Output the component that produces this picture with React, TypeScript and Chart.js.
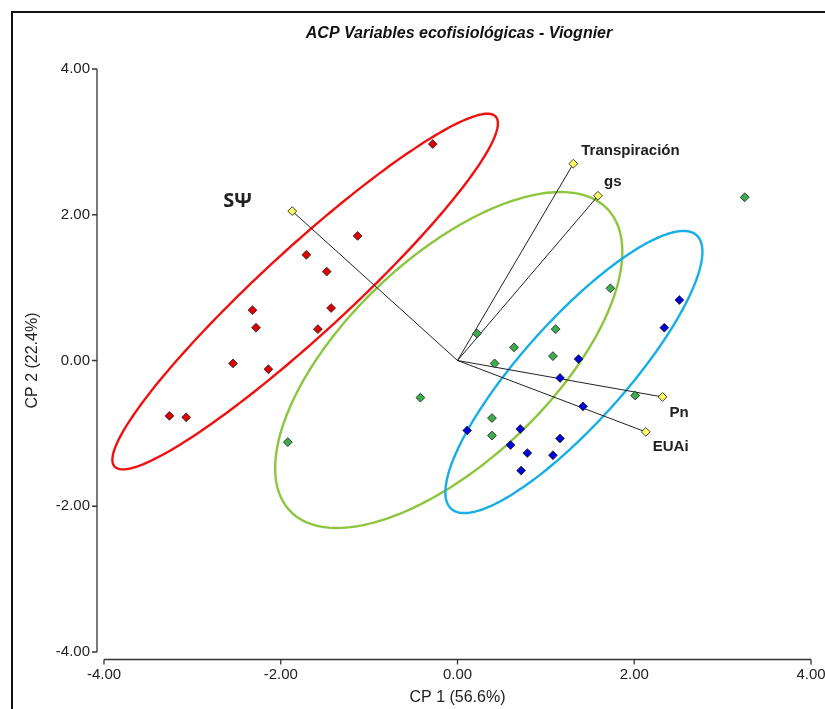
import React, { useEffect, useRef } from 'react';
import { Chart, registerables } from 'chart.js';

Chart.register(...registerables);

// ---- Data ----
const chartTitle = 'ACP Variables ecofisiológicas - Viognier';
const xAxisTitle = 'CP 1 (56.6%)';
const yAxisTitle = 'CP 2 (22.4%)';
const axisMin = -4;
const axisMax = 4;
const axisStep = 2;

const redX = [-0.28, -1.13, -1.71, -1.48, -1.43, -2.32, -2.28, -1.58, -2.54, -2.14, -3.26, -3.07];
const redY = [2.97, 1.71, 1.45, 1.22, 0.72, 0.69, 0.45, 0.43, -0.04, -0.12, -0.76, -0.78];

const greenX = [-0.42, -1.92, 0.22, 0.42, 0.39, 0.39, 3.25, 1.73, 1.11, 0.64, 1.08, 2.01];
const greenY = [-0.51, -1.12, 0.37, -0.04, -0.79, -1.03, 2.24, 0.99, 0.43, 0.18, 0.06, -0.48];

const blueX = [2.51, 2.34, 1.37, 1.16, 1.42, 0.11, 0.71, 1.16, 0.6, 0.79, 1.08, 0.72];
const blueY = [0.83, 0.45, 0.02, -0.24, -0.63, -0.96, -0.94, -1.07, -1.16, -1.27, -1.3, -1.51];

const varNames = ['SΨ', 'Transpiración', 'gs', 'Pn', 'EUAi'];
const varX = [-1.87, 1.31, 1.59, 2.32, 2.13];
const varY = [2.05, 2.7, 2.26, -0.5, -0.98];

// Ellipses: centre and two conjugate semi-diameters (data units)
const ellipseCx = [-1.724, -0.099, 1.317];
const ellipseCy = [0.946, 0.007, -0.158];
const ellipseUx = [2.156, 1.796, 1.388];
const ellipseUy = [2.401, 2.071, 1.877];
const ellipseVx = [0.33, 0.795, 0.434];
const ellipseVy = [-0.435, -1.011, -0.472];

// ---- Styles ----
const FONT = '"Liberation Sans", Arial, sans-serif';
const ellipseColors = ['#f01010', '#8cc63f', '#16aee6'];
const labelDx = [-69, 8, 6, 7, 7];
const labelDy = [-4, -9, -10, 20, 19];
const labelFonts = [
  'bold 20px "Open Sans", "Noto Sans", sans-serif',
  'bold 15px ' + FONT,
  'bold 15px ' + FONT,
  'bold 15px ' + FONT,
  'bold 15px ' + FONT,
];

const toPts = (xs: number[], ys: number[]) => xs.map((x, i) => ({ x, y: ys[i] }));

const biplotPlugin = {
  id: 'biplot',
  beforeDatasetsDraw(chart: any) {
    const { ctx } = chart;
    const xs = chart.scales.x;
    const ys = chart.scales.y;
    ctx.save();
    ellipseCx.forEach((cx, i) => {
      ctx.beginPath();
      const n = 240;
      for (let k = 0; k <= n; k++) {
        const t = (k / n) * Math.PI * 2;
        const dx = cx + ellipseUx[i] * Math.cos(t) + ellipseVx[i] * Math.sin(t);
        const dy = ellipseCy[i] + ellipseUy[i] * Math.cos(t) + ellipseVy[i] * Math.sin(t);
        const px = xs.getPixelForValue(dx);
        const py = ys.getPixelForValue(dy);
        if (k === 0) ctx.moveTo(px, py);
        else ctx.lineTo(px, py);
      }
      ctx.closePath();
      ctx.strokeStyle = ellipseColors[i];
      ctx.lineWidth = 2.4;
      ctx.stroke();
    });
    ctx.restore();
  },
  afterDraw(chart: any) {
    const { ctx, chartArea } = chart;
    const xs = chart.scales.x;
    const ys = chart.scales.y;
    ctx.save();
    // outer frame
    ctx.strokeStyle = '#111';
    ctx.lineWidth = 2;
    ctx.strokeRect(12, 12, 1000, 1000);

    // title
    ctx.fillStyle = '#111';
    ctx.font = 'italic bold 16px ' + FONT;
    ctx.textAlign = 'center';
    ctx.textBaseline = 'alphabetic';
    ctx.fillText(chartTitle, 459, 38);

    // axes (detached)
    ctx.strokeStyle = '#333';
    ctx.lineWidth = 1.3;
    const yAxisX = chartArea.left - 7;
    ctx.beginPath();
    ctx.moveTo(yAxisX, ys.getPixelForValue(axisMax));
    ctx.lineTo(yAxisX, ys.getPixelForValue(axisMin));
    ys.ticks.forEach((t: any) => {
      const py = ys.getPixelForValue(t.value);
      ctx.moveTo(yAxisX - 5, py);
      ctx.lineTo(yAxisX, py);
    });
    const xAxisY = chartArea.bottom + 7.5;
    ctx.moveTo(xs.getPixelForValue(axisMin), xAxisY);
    ctx.lineTo(xs.getPixelForValue(axisMax), xAxisY);
    xs.ticks.forEach((t: any) => {
      const px = xs.getPixelForValue(t.value);
      ctx.moveTo(px, xAxisY);
      ctx.lineTo(px, xAxisY + 5);
    });
    ctx.stroke();

    // variable labels
    ctx.fillStyle = '#222';
    ctx.textAlign = 'left';
    varNames.forEach((name, i) => {
      ctx.font = labelFonts[i];
      const px = xs.getPixelForValue(varX[i]);
      const py = ys.getPixelForValue(varY[i]);
      ctx.fillText(name, px + labelDx[i], py + labelDy[i]);
    });
    ctx.restore();
  },
};

export default function App() {
  const ref = useRef<HTMLCanvasElement>(null);
  useEffect(() => {
    const canvas = ref.current;
    if (!canvas) return;
    const pointBorder = '#2a2a2a';
    const vectorSets = varX.map((x, i) => ({
      type: 'scatter' as const,
      data: [{ x: 0, y: 0 }, { x, y: varY[i] }],
      showLine: true,
      borderColor: '#222',
      borderWidth: 1,
      pointRadius: 0,
      order: 2,
    }));
    const chart = new Chart(canvas, {
      type: 'scatter',
      data: {
        datasets: [
          { data: toPts(redX, redY), backgroundColor: '#e00000', borderColor: pointBorder, borderWidth: 0.9, pointStyle: 'rectRot', pointRadius: 4.4, order: 0 },
          { data: toPts(greenX, greenY), backgroundColor: '#3aae4a', borderColor: pointBorder, borderWidth: 0.9, pointStyle: 'rectRot', pointRadius: 4.4, order: 0 },
          { data: toPts(blueX, blueY), backgroundColor: '#0000dd', borderColor: pointBorder, borderWidth: 0.9, pointStyle: 'rectRot', pointRadius: 4.4, order: 0 },
          { data: toPts(varX, varY), backgroundColor: '#ffff66', borderColor: pointBorder, borderWidth: 0.9, pointStyle: 'rectRot', pointRadius: 4.4, order: 0 },
          ...vectorSets,
        ] as any,
      },
      options: {
        animation: false,
        responsive: false,
        events: [],
        layout: { padding: { top: 69, right: 14, bottom: 0, left: 0 } },
        plugins: { legend: { display: false }, tooltip: { enabled: false }, title: { display: false } },
        scales: {
          x: {
            type: 'linear',
            min: axisMin,
            max: axisMax,
            border: { display: false },
            grid: { display: true, drawOnChartArea: false, drawTicks: false, color: 'transparent' },
            ticks: {
              stepSize: axisStep,
              padding: 14,
              color: '#222',
              font: { family: FONT, size: 15 },
              maxRotation: 0,
              autoSkip: false,
              callback: (v: any) => Number(v).toFixed(2),
            },
            title: { display: true, text: xAxisTitle, color: '#222', font: { family: FONT, size: 16 }, padding: { top: 0, bottom: 2 } },
            afterFit: (s: any) => {
              s.height = 57;
              s.paddingLeft = 0;
              s.paddingRight = 0;
            },
          },
          y: {
            type: 'linear',
            min: axisMin,
            max: axisMax,
            border: { display: false },
            grid: { display: true, drawOnChartArea: false, drawTicks: false, color: 'transparent' },
            ticks: {
              stepSize: axisStep,
              padding: 14,
              color: '#222',
              font: { family: FONT, size: 15 },
              autoSkip: false,
              callback: (v: any) => Number(v).toFixed(2),
            },
            title: { display: true, text: yAxisTitle, color: '#222', font: { family: FONT, size: 16 }, padding: { top: 23, bottom: 0 } },
            afterFit: (s: any) => {
              s.width = 104;
              s.paddingTop = 0;
              s.paddingBottom = 0;
            },
          },
        },
      } as any,
      plugins: [biplotPlugin],
    });
    return () => chart.destroy();
  }, []);
  return (
    <div style={{ position: 'absolute', left: 0, top: 0, width: 825, height: 709, background: '#fff' }}>
      <canvas ref={ref} width={825} height={709} style={{ display: 'block' }} />
    </div>
  );
}
